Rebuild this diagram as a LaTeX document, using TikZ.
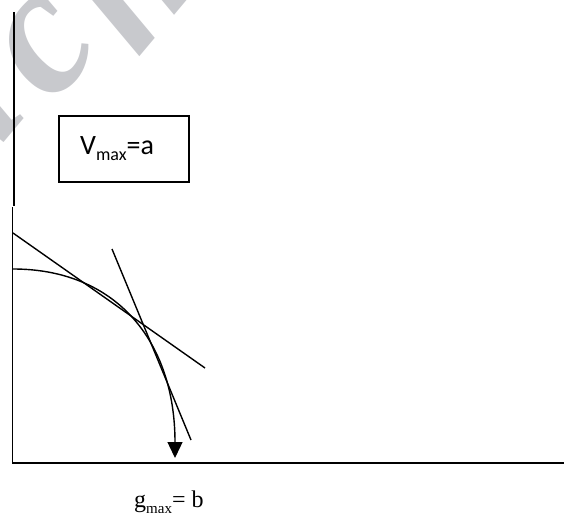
\documentclass[tikz,border=0pt]{standalone}
\usepackage{fontspec}
\setmainfont{Liberation Serif}
\newfontfamily\calib{Carlito}
\usetikzlibrary{arrows.meta}
\definecolor{wmark}{RGB}{200,201,205}
\tikzset{
  axis/.style={line width=1.4pt, black},
  curveline/.style={line width=1.4pt, black},
  boxnode/.style={draw, line width=1.4pt, minimum width=130pt, minimum height=66pt, inner sep=0pt},
  wm/.style={text=wmark, font=\fontsize{185}{185}\selectfont\bfseries\itshape, rotate=50, inner sep=0pt}
}
\begin{document}
\begin{tikzpicture}[x=1pt,y=-1pt]
\useasboundingbox (0,0) rectangle (564,513);
\begin{scope}
\clip (0,0) rectangle (564,513);
\node[wm] (wa) at (-32,120) {a};
\node[wm] (wc) at (47,47) {c};
\node[wm] (wh) at (121,-21) {h};
\end{scope}
% axes
\coordinate (ytop) at (14,12);
\coordinate (ybreak) at (14,206);
\coordinate (ybreak2) at (12.5,207);
\coordinate (origin) at (12.5,463);
\coordinate (xend) at (564,463);
\draw[axis] (ytop) -- (ybreak);
\draw[axis] (ybreak2) -- (origin) -- (xend);
% box
\node[boxnode] (box) at (124,149) {};
\node[anchor=base west, inner sep=0pt] (vlabel) at (80,154)
  {\calib\fontsize{28}{28}\selectfont V\raisebox{-0.22em}{\fontsize{18}{18}\selectfont max}=a};
% tangent lines
\coordinate (t1a) at (13,233);
\coordinate (t1b) at (205,368);
\coordinate (t2a) at (112,249);
\coordinate (t2b) at (191,440);
\draw[curveline] (t1a) -- (t1b);
\draw[curveline] (t2a) -- (t2b);
% frontier curve
\coordinate (cstart) at (13,269);
\coordinate (cend) at (175,458);
\draw[curveline, -{Triangle[length=16pt,width=15pt]}] (cstart) .. controls (115,269) and (175,340) .. (cend);
% g label
\node[anchor=base west, inner sep=0pt] (glabel) at (134,507)
  {\fontsize{24}{24}\selectfont g\raisebox{-0.25em}{\fontsize{15}{15}\selectfont max}= b};
\end{tikzpicture}
\end{document}
